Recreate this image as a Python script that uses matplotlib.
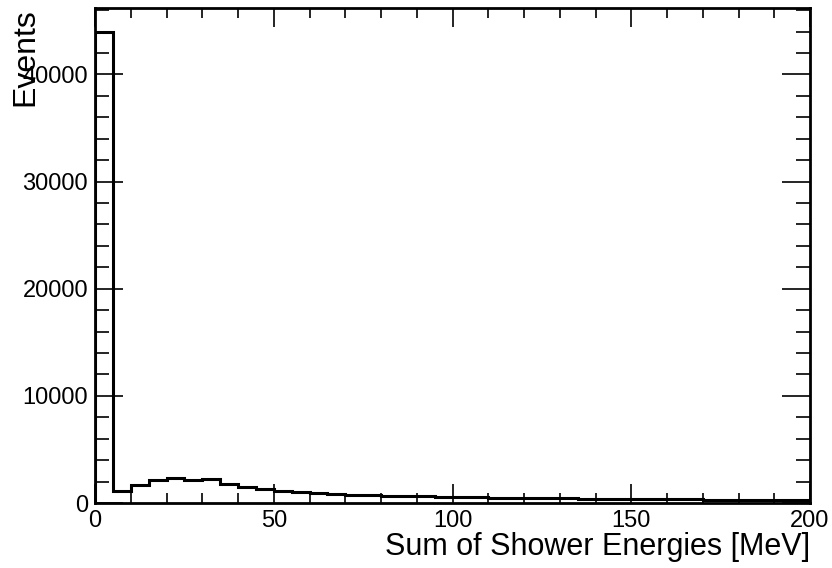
import matplotlib
matplotlib.use("Agg")
from matplotlib import pyplot as plt
from matplotlib.ticker import MultipleLocator
import numpy as np

plt.rcParams['font.family'] = ['Liberation Sans', 'DejaVu Sans']

# bin edges in MeV, 5 MeV bins
edges = np.arange(0, 205, 5)
counts = [44000, 1150, 1650, 2120, 2300, 2120, 2200, 1780, 1470, 1280,
          1120, 1000, 900, 820, 780, 740, 700, 660, 620, 590,
          560, 530, 510, 490, 470, 450, 430, 410, 400, 380,
          370, 350, 340, 330, 320, 310, 300, 290, 285, 280]

fig = plt.figure(figsize=(8.32, 5.68), dpi=100)
ax = fig.add_axes([95/832, 1 - 503/568, 715/832, 495/568])

ax.stairs(counts, edges, color='black', linewidth=2.2)

ax.set_xlim(0, 200)
ax.set_ylim(0, 46200)

ax.xaxis.set_major_locator(MultipleLocator(50))
ax.xaxis.set_minor_locator(MultipleLocator(10))
ax.yaxis.set_major_locator(MultipleLocator(10000))
ax.yaxis.set_minor_locator(MultipleLocator(2000))

ax.tick_params(which='both', direction='in', top=True, right=True,
               labelsize=17, width=1.2)
ax.tick_params(axis='x', which='major', length=14, pad=5)
ax.tick_params(axis='x', which='minor', length=7)
ax.tick_params(axis='y', which='major', length=20, pad=5)
ax.tick_params(axis='y', which='minor', length=10)

for sp in ax.spines.values():
    sp.set_linewidth(2)

ax.set_xlabel("Sum of Shower Energies [MeV]", fontsize=22, loc='right', labelpad=0)
ax.yaxis.set_label_coords(-0.077, 1.01)
ax.set_ylabel("Events", fontsize=23, loc='top')

plt.savefig("out.png", dpi=100)
